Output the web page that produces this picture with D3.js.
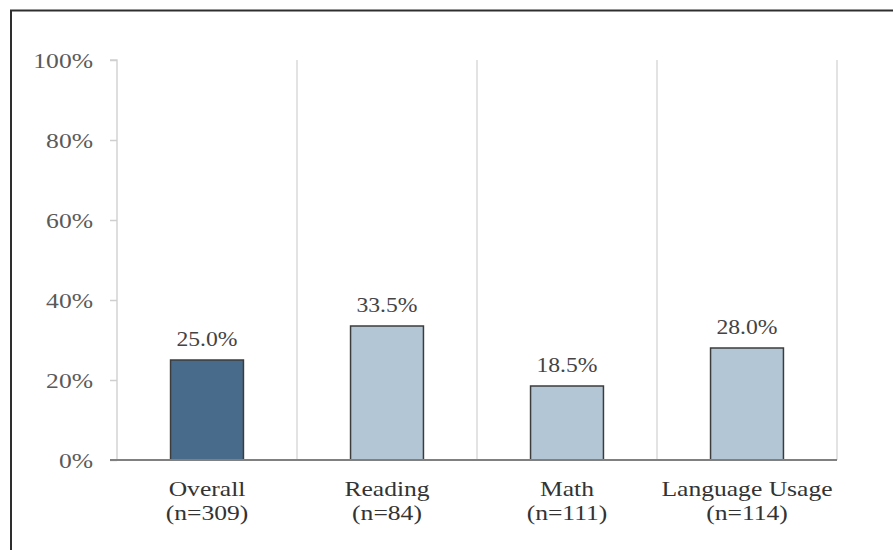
<!DOCTYPE html>
<html>
<head>
<meta charset="utf-8">
<script src="https://cdn.jsdelivr.net/npm/d3@7"></script>
<style>
  html, body { margin: 0; padding: 0; background: #fff; }
  svg { display: block; }
  text { font-family: "Liberation Serif", "DejaVu Serif", serif; }
</style>
</head>
<body>
<svg id="chart" width="893" height="550"></svg>
<script>
// Share of students per subject area (percent), with group sizes
const categories = ["Overall", "Reading", "Math", "Language Usage"];
const sampleSizes = [309, 84, 111, 114];
const values = [25.0, 33.5, 18.5, 28.0];
const yTicks = [0, 20, 40, 60, 80, 100];

const plot = { left: 117, right: 837, top: 60, bottom: 460 };
const textScaleX = 1.19;

const svg = d3.select("#chart");

// outer frame
svg.append("rect")
  .attr("x", 11).attr("y", 10.5)
  .attr("width", 900).attr("height", 600)
  .attr("fill", "none")
  .attr("stroke", "#2e2e2e")
  .attr("stroke-width", 2);

const x = d3.scaleBand()
  .domain(categories)
  .range([plot.left, plot.right])
  .paddingInner(0).paddingOuter(0);

const y = d3.scaleLinear()
  .domain([0, 100])
  .range([plot.bottom, plot.top]);

// vertical separators between categories
svg.append("g")
  .selectAll("line")
  .data(categories)
  .join("line")
  .attr("x1", d => x(d) + x.bandwidth())
  .attr("x2", d => x(d) + x.bandwidth())
  .attr("y1", y(100))
  .attr("y2", y(0))
  .attr("stroke", "#dadada")
  .attr("stroke-width", 1.5);

// y axis
const yAxis = svg.append("g")
  .attr("transform", `translate(${plot.left},0)`)
  .call(d3.axisLeft(y).tickValues(yTicks).tickSize(7).tickFormat(""));
yAxis.select(".domain").attr("stroke", "#d4d4d4").attr("stroke-width", 1.5)
  .attr("d", `M-7,${y(100)}H0V${y(0)}`);
yAxis.selectAll(".tick line").attr("stroke", "#cfcfcf").attr("stroke-width", 1.5);

// y tick labels (stretched serif)
svg.append("g")
  .selectAll("text")
  .data(yTicks)
  .join("text")
  .attr("transform", d => `translate(93,${y(d)}) scale(${textScaleX},1)`)
  .attr("text-anchor", "end")
  .attr("dy", "0.35em")
  .attr("font-size", 21.5)
  .attr("fill", "#5a5a5a")
  .text(d => d + "%");

// bars
const barW = x.bandwidth() * 0.405;
svg.append("g")
  .selectAll("rect")
  .data(values)
  .join("rect")
  .attr("x", (d, i) => x(categories[i]) + (x.bandwidth() - barW) / 2)
  .attr("y", d => y(d))
  .attr("width", barW)
  .attr("height", d => y(0) - y(d))
  .attr("fill", (d, i) => i === 0 ? "#496b8b" : "#b3c6d6")
  .attr("stroke", "#3c3c3c")
  .attr("stroke-width", 1.5);

// x axis baseline
svg.append("line")
  .attr("x1", plot.left - 7).attr("x2", plot.right)
  .attr("y1", y(0)).attr("y2", y(0))
  .attr("stroke", "#808080")
  .attr("stroke-width", 1.8);

// value labels
svg.append("g")
  .selectAll("text")
  .data(values)
  .join("text")
  .attr("transform", (d, i) =>
    `translate(${x(categories[i]) + x.bandwidth() / 2},${y(d) - 14}) scale(${textScaleX * 0.97},1)`)
  .attr("text-anchor", "middle")
  .attr("font-size", 20.5)
  .attr("fill", "#444")
  .text(d => d.toFixed(1) + "%");

// category labels with group sizes
const catG = svg.append("g")
  .selectAll("g")
  .data(categories)
  .join("g")
  .attr("transform", d => `translate(${x(d) + x.bandwidth() / 2},0)`);

catG.append("text")
  .attr("transform", `translate(0,496) scale(${textScaleX},1)`)
  .attr("text-anchor", "middle")
  .attr("font-size", 21.5)
  .attr("fill", "#333")
  .text(d => d);

catG.append("text")
  .attr("transform", `translate(0,520) scale(${textScaleX},1)`)
  .attr("text-anchor", "middle")
  .attr("font-size", 21.5)
  .attr("fill", "#333")
  .text((d, i) => `(n=${sampleSizes[i]})`);
</script>
</body>
</html>
